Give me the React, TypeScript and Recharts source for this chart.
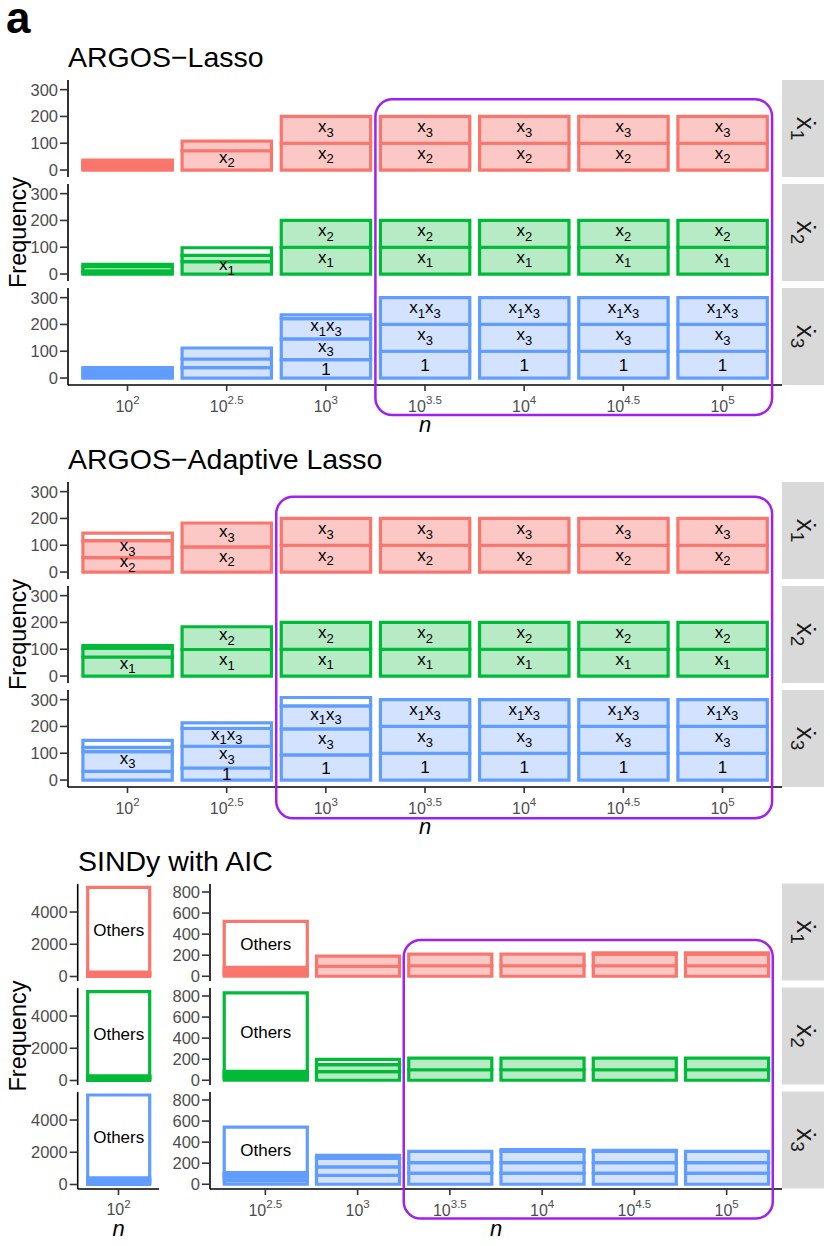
import React from 'react';
import { BarChart, Bar, XAxis, YAxis, Cell, LabelList } from 'recharts';

type Seg = [number, string?];
type Variable = 'x1' | 'x2' | 'x3';

const FONT = '"Liberation Sans", Arial, Helvetica, sans-serif';
const STROKE: Record<Variable, string> = { x1: '#F8766D', x2: '#00BA38', x3: '#619CFF' };
const FILL: Record<Variable, string> = { x1: '#FBC8C5', x2: '#B7EBC6', x3: '#D3E2FF' };

// ---------- categories & ticks ----------
const argosCategories = ['10^2', '10^2.5', '10^3', '10^3.5', '10^4', '10^4.5', '10^5'];
const sindyLeftCategories = ['10^2'];
const sindyRightCategories = ['10^2.5', '10^3', '10^3.5', '10^4', '10^4.5', '10^5'];
const argosYTicks = [0, 100, 200, 300];
const sindyLeftYTicks = [0, 2000, 4000];
const sindyRightYTicks = [0, 200, 400, 600, 800];

// ---------- segments (bottom -> top): [frequency, term] ----------
// '' / undefined = unlabeled term, 'o' = remaining terms (white), 'Others' = labelled remaining terms
const lassoX1: Seg[][] = [
  [[6], [6], [6], [6], [6], [7]],
  [[72, 'x2'], [36]],
  [[100, 'x2'], [100, 'x3']],
  [[100, 'x2'], [100, 'x3']],
  [[100, 'x2'], [100, 'x3']],
  [[100, 'x2'], [100, 'x3']],
  [[100, 'x2'], [100, 'x3']],
];
const lassoX2: Seg[][] = [
  [[6], [6], [16, 'o'], [8]],
  [[46, 'x1'], [24], [28, 'o']],
  [[100, 'x1'], [100, 'x2']],
  [[100, 'x1'], [100, 'x2']],
  [[100, 'x1'], [100, 'x2']],
  [[100, 'x1'], [100, 'x2']],
  [[100, 'x1'], [100, 'x2']],
];
const lassoX3: Seg[][] = [
  [[8], [8], [8], [8], [7]],
  [[39], [32], [41]],
  [[69, '1'], [77, 'x3'], [76, 'x1x3'], [14, 'o']],
  [[100, '1'], [100, 'x3'], [100, 'x1x3']],
  [[100, '1'], [100, 'x3'], [100, 'x1x3']],
  [[100, '1'], [100, 'x3'], [100, 'x1x3']],
  [[100, '1'], [100, 'x3'], [100, 'x1x3']],
];
const adaptiveX1: Seg[][] = [
  [[54, 'x2'], [63, 'x3'], [28, 'o']],
  [[94, 'x2'], [89, 'x3']],
  [[100, 'x2'], [100, 'x3']],
  [[100, 'x2'], [100, 'x3']],
  [[100, 'x2'], [100, 'x3']],
  [[100, 'x2'], [100, 'x3']],
  [[100, 'x2'], [100, 'x3']],
];
const adaptiveX2: Seg[][] = [
  [[71, 'x1'], [33], [10]],
  [[99, 'x1'], [85, 'x2']],
  [[100, 'x1'], [100, 'x2']],
  [[100, 'x1'], [100, 'x2']],
  [[100, 'x1'], [100, 'x2']],
  [[100, 'x1'], [100, 'x2']],
  [[100, 'x1'], [100, 'x2']],
];
const adaptiveX3: Seg[][] = [
  [[32], [74, 'x3'], [16], [26, 'o']],
  [[45, '1'], [81, 'x3'], [67, 'x1x3'], [20, 'o']],
  [[94, '1'], [97, 'x3'], [86, 'x1x3'], [31, 'o']],
  [[100, '1'], [100, 'x3'], [100, 'x1x3']],
  [[100, '1'], [100, 'x3'], [100, 'x1x3']],
  [[100, '1'], [100, 'x3'], [100, 'x1x3']],
  [[100, '1'], [100, 'x3'], [100, 'x1x3']],
];
const sindyLeftX1: Seg[][] = [[[60], [70], [70], [70], [5260, 'Others']]];
const sindyLeftX2: Seg[][] = [[[70], [70], [70], [80], [5220, 'Others']]];
const sindyLeftX3: Seg[][] = [[[100], [100], [100], [115], [5140, 'Others']]];
const sindyRightX1: Seg[][] = [
  [[20], [20], [20], [25], [436, 'Others']],
  [[95], [97]],
  [[100], [110]],
  [[100], [110]],
  [[100], [110], [12]],
  [[100], [110], [12]],
];
const sindyRightX2: Seg[][] = [
  [[20], [20], [20], [25], [745, 'Others']],
  [[82], [67], [50, 'o']],
  [[100], [110]],
  [[100], [110]],
  [[100], [110]],
  [[100], [110]],
];
const sindyRightX3: Seg[][] = [
  [[35], [32, 'o'], [22], [22], [432, 'Others']],
  [[85], [80], [80], [30]],
  [[105], [100], [108]],
  [[105], [100], [108], [16]],
  [[105], [100], [108], [8]],
  [[105], [100], [108]],
];

// ---------- layout ----------
const FACET_H = 97;
const FACET_STEP = 104;
const X_AXIS_H = 60;
const BOTTOM_SLACK = 10;
const PLOT_RIGHT = 782;
const STRIP_W = 42;
const BAR_STROKE_W = 3.2;
const AXIS_LINE = { stroke: '#000', strokeWidth: 1.6 };
const TICK_LINE = { stroke: '#333', strokeWidth: 1.6 };

const isWhite = (t: string) => t === 'o' || t === 'Others';

function SegLabel(props: any) {
  const vb = props.viewBox && typeof props.viewBox.width === 'number' ? props.viewBox : props;
  const label = props.value;
  if (typeof label !== 'string' || label === '' || label === 'o') return null;
  const cx = vb.x + vb.width / 2;
  const y0 = Math.min(vb.y, vb.y + vb.height);
  const cy = y0 + Math.abs(vb.height) / 2;
  if (label === 'Others' || label === '1') {
    const fs = 17;
    return (
      <text x={cx} y={cy + 0.36 * fs} textAnchor="middle" fontSize={fs} fontFamily={FONT} fill="#000">
        {label}
      </text>
    );
  }
  const parts = label.match(/x\d/g) || [];
  const dy = 4.5;
  const kids: any[] = [];
  parts.forEach((p, i) => {
    kids.push(<tspan key={'b' + i} dy={i === 0 ? 0 : -dy} fontSize={17}>x</tspan>);
    kids.push(<tspan key={'s' + i} dy={dy} fontSize={13}>{p[1]}</tspan>);
  });
  return (
    <text x={cx} y={cy + 2.3} textAnchor="middle" fontFamily={FONT} fill="#000">
      {kids}
    </text>
  );
}

function renderXTick(props: any) {
  const { x, y, payload } = props;
  const exp = String(payload.value).split('^')[1];
  return (
    <text x={x} y={y + 20.5} textAnchor="middle" fill="#4D4D4D" fontSize={16} fontFamily={FONT}>
      10<tspan dy={-7.5} fontSize={11.5}>{exp}</tspan>
    </text>
  );
}

interface FacetProps {
  categories: string[];
  segs: Seg[][];
  variable: Variable;
  domain: [number, number];
  ticks: number[];
  top: number;
  width: number;
  yAxisWidth: number;
  showX: boolean;
  pad: number;
  barSize: number;
}

function Facet({ categories, segs, variable, domain, ticks, top, width, yAxisWidth, showX, pad, barSize }: FacetProps) {
  const n = Math.max(...segs.map((s) => s.length));
  const rows = categories.map((c, i) => {
    const r: any = { cat: c };
    for (let k = 0; k < n; k++) {
      const s = segs[i][k];
      r[`v${k}`] = s ? s[0] : 0;
      r[`t${k}`] = s ? s[1] ?? '' : '';
    }
    return r;
  });
  const layers = Array.from({ length: n }, (_, k) => k);
  return (
    <div style={{ position: 'absolute', left: 0, top }}>
      <BarChart
        width={width}
        height={FACET_H + (showX ? X_AXIS_H : BOTTOM_SLACK)}
        data={rows}
        margin={{ top: 0, right: 0, bottom: showX ? 0 : BOTTOM_SLACK, left: 0 }}
      >
        <XAxis
          dataKey="cat"
          type="category"
          hide={!showX}
          height={showX ? X_AXIS_H : 0}
          padding={{ left: pad, right: pad }}
          interval={0}
          tickSize={6}
          tickMargin={0}
          tick={renderXTick}
          axisLine={AXIS_LINE}
          tickLine={TICK_LINE}
        />
        <YAxis
          type="number"
          domain={domain}
          ticks={ticks}
          allowDataOverflow
          interval={0}
          width={yAxisWidth}
          tickSize={8}
          tickMargin={2}
          tick={{ fill: '#4D4D4D', fontSize: 16.5, fontFamily: FONT }}
          axisLine={AXIS_LINE}
          tickLine={TICK_LINE}
        />
        {layers.map((k) => (
          <Bar
            key={k}
            dataKey={`v${k}`}
            stackId="s"
            barSize={barSize}
            isAnimationActive={false}
            stroke={STROKE[variable]}
            strokeWidth={BAR_STROKE_W}
          >
            {rows.map((r, i) => (
              <Cell key={i} fill={isWhite(r[`t${k}`]) ? '#FFFFFF' : FILL[variable]} />
            ))}
            <LabelList dataKey={`t${k}`} content={SegLabel} />
          </Bar>
        ))}
      </BarChart>
    </div>
  );
}

const VARS: Variable[] = ['x1', 'x2', 'x3'];

// ARGOS panels
const ARGOS_LEFT = 68;
const ARGOS_BAND = (PLOT_RIGHT - ARGOS_LEFT) / 7.2;
const ARGOS_PAD = ARGOS_BAND * 0.1;
const ARGOS_DOMAIN: [number, number] = [-26, 336];

// SINDy
const SL_LEFT = 77.7;
const SL_RIGHT = 159.3;
const SR_LEFT = 210;
const SR_BAND = (PLOT_RIGHT - SR_LEFT) / 6.2;
const SR_PAD = SR_BAND * 0.1;

const argosPanels = [
  { title: 'ARGOS−Lasso', top: 80, facets: [lassoX1, lassoX2, lassoX3], highlightFrom: 3, boxTop: 99.3, boxBottom: 415 },
  { title: 'ARGOS−Adaptive Lasso', top: 482, facets: [adaptiveX1, adaptiveX2, adaptiveX3], highlightFrom: 2, boxTop: 496.7, boxBottom: 818.3 },
];
const SINDY_TOP = 883.5;
const sindyLeft = [sindyLeftX1, sindyLeftX2, sindyLeftX3];
const sindyRight = [sindyRightX1, sindyRightX2, sindyRightX3];

function Strip({ top, idx }: { top: number; idx: number }) {
  const cx = PLOT_RIGHT + STRIP_W / 2;
  const cy = top + FACET_H / 2;
  return (
    <g>
      <rect x={PLOT_RIGHT} y={top} width={STRIP_W} height={FACET_H} fill="#D9D9D9" />
      <g transform={`translate(${cx},${cy}) rotate(90)`}>
        <text x={0} y={6.5} textAnchor="middle" fontSize={26} fontFamily={FONT} fill="#1A1A1A">
          ẋ<tspan dy={5.5} fontSize={19}>{idx + 1}</tspan>
        </text>
      </g>
    </g>
  );
}

function FreqLabel({ cy }: { cy: number }) {
  return (
    <g transform={`translate(26,${cy}) rotate(-90)`}>
      <text x={0} y={0} textAnchor="middle" fontSize={23.5} fontFamily={FONT} fill="#000">
        Frequency
      </text>
    </g>
  );
}

function NLabel({ x, y }: { x: number; y: number }) {
  return (
    <text x={x} y={y} textAnchor="middle" fontSize={22} fontStyle="italic" fontFamily={FONT} fill="#000">
      n
    </text>
  );
}

export default function App() {
  return (
    <div
      style={{
        position: 'absolute',
        left: 0,
        top: 0,
        width: 830,
        height: 1246,
        background: '#FFFFFF',
        overflow: 'hidden',
        fontFamily: FONT,
      }}
    >
      {argosPanels.map((p, pi) =>
        p.facets.map((segs, fi) => (
          <Facet
            key={`a${pi}-${fi}`}
            categories={argosCategories}
            segs={segs}
            variable={VARS[fi]}
            domain={ARGOS_DOMAIN}
            ticks={argosYTicks}
            top={p.top + fi * FACET_STEP}
            width={PLOT_RIGHT}
            yAxisWidth={ARGOS_LEFT}
            showX={fi === 2}
            pad={ARGOS_PAD}
            barSize={ARGOS_BAND - 9.8}
          />
        ))
      )}
      {sindyLeft.map((segs, fi) => (
        <Facet
          key={`sl${fi}`}
          categories={sindyLeftCategories}
          segs={segs}
          variable={VARS[fi]}
          domain={[-280, 5740]}
          ticks={sindyLeftYTicks}
          top={SINDY_TOP + fi * FACET_STEP}
          width={SL_RIGHT}
          yAxisWidth={SL_LEFT}
          showX={fi === 2}
          pad={0}
          barSize={62}
        />
      ))}
      {sindyRight.map((segs, fi) => (
        <Facet
          key={`sr${fi}`}
          categories={sindyRightCategories}
          segs={segs}
          variable={VARS[fi]}
          domain={[-45, 876]}
          ticks={sindyRightYTicks}
          top={SINDY_TOP + fi * FACET_STEP}
          width={PLOT_RIGHT}
          yAxisWidth={SR_LEFT}
          showX={fi === 2}
          pad={SR_PAD}
          barSize={SR_BAND - 9.2}
        />
      ))}
      <svg
        width={830}
        height={1246}
        style={{ position: 'absolute', left: 0, top: 0, pointerEvents: 'none' }}
      >
        <text x={6} y={33} fontSize={44} fontWeight="bold" fontFamily={FONT} fill="#000">
          a
        </text>
        {argosPanels.map((p, pi) => {
          const bottom = p.top + 2 * FACET_STEP + FACET_H;
          const bx = ARGOS_LEFT + ARGOS_PAD + p.highlightFrom * ARGOS_BAND;
          const bx2 = PLOT_RIGHT - ARGOS_PAD;
          return (
            <g key={`ov${pi}`}>
              <text x={68} y={p.top - 13.3} fontSize={28.5} fontFamily={FONT} fill="#000">
                {p.title}
              </text>
              <FreqLabel cy={(p.top + bottom) / 2} />
              {VARS.map((_, fi) => (
                <Strip key={fi} top={p.top + fi * FACET_STEP} idx={fi} />
              ))}
              <NLabel x={(ARGOS_LEFT + PLOT_RIGHT) / 2} y={bottom + 47} />
              <rect
                x={bx}
                y={p.boxTop}
                width={bx2 - bx}
                height={p.boxBottom - p.boxTop}
                rx={17}
                ry={17}
                fill="none"
                stroke="#A020F0"
                strokeWidth={2.5}
              />
            </g>
          );
        })}
        {(() => {
          const bottom = SINDY_TOP + 2 * FACET_STEP + FACET_H;
          const bx = SR_LEFT + SR_PAD + 2 * SR_BAND;
          const bx2 = PLOT_RIGHT - SR_PAD;
          return (
            <g>
              <text x={78} y={SINDY_TOP - 12.8} fontSize={28.5} fontFamily={FONT} fill="#000">
                SINDy with AIC
              </text>
              <FreqLabel cy={(SINDY_TOP + bottom) / 2} />
              {VARS.map((_, fi) => (
                <Strip key={fi} top={SINDY_TOP + fi * FACET_STEP} idx={fi} />
              ))}
              <NLabel x={(SL_LEFT + SL_RIGHT) / 2} y={bottom + 47} />
              <NLabel x={(SR_LEFT + PLOT_RIGHT) / 2} y={bottom + 47} />
              <rect
                x={bx}
                y={940}
                width={bx2 - bx}
                height={bottom + 30 - 940}
                rx={17}
                ry={17}
                fill="none"
                stroke="#A020F0"
                strokeWidth={2.5}
              />
            </g>
          );
        })()}
      </svg>
    </div>
  );
}
